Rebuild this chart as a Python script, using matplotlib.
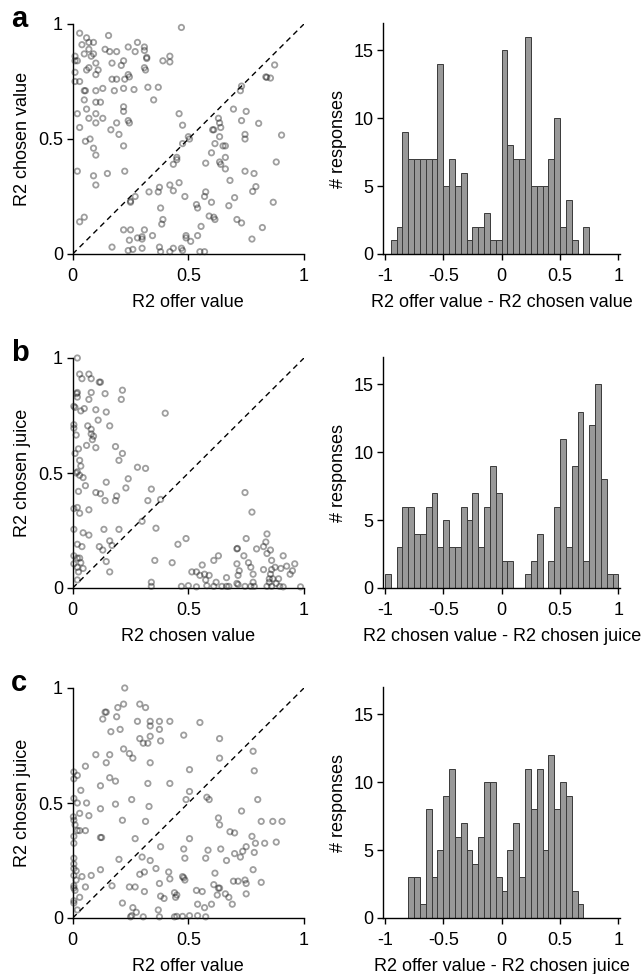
import numpy as np
import matplotlib
matplotlib.use("Agg")
import matplotlib.pyplot as plt

plt.rcParams['font.family'] = ['Liberation Sans', 'DejaVu Sans']
plt.rcParams['axes.unicode_minus'] = False

# ---- datos ----
# panel a: (R2 offer value, R2 chosen value)
pts_a = [
    (0.03, 0.96), (0.06, 0.94), (0.04, 0.91), (0.07, 0.92), (0.09, 0.92),
    (0.01, 0.86), (0.01, 0.84), (0.02, 0.84), (0.05, 0.87), (0.07, 0.89), (0.09, 0.87), (0.08, 0.86), (0.10, 0.83),
    (0.01, 0.79), (0.01, 0.75), (0.03, 0.75), (0.06, 0.80), (0.07, 0.81), (0.11, 0.80), (0.10, 0.78),
    (0.055, 0.71), (0.05, 0.71), (0.05, 0.67), (0.10, 0.71), (0.13, 0.72), (0.10, 0.66), (0.12, 0.66),
    (0.02, 0.61), (0.06, 0.63), (0.10, 0.61), (0.13, 0.59), (0.07, 0.59), (0.10, 0.57),
    (0.03, 0.55), (0.075, 0.50), (0.055, 0.49), (0.09, 0.46), (0.10, 0.43),
    (0.02, 0.36), (0.09, 0.34), (0.10, 0.30), (0.15, 0.35), (0.03, 0.14), (0.05, 0.16),
    (0.155, 0.95), (0.14, 0.89), (0.16, 0.88), (0.19, 0.88), (0.24, 0.90), (0.27, 0.88), (0.28, 0.92), (0.31, 0.90), (0.31, 0.885),
    (0.17, 0.83), (0.22, 0.84), (0.21, 0.82), (0.24, 0.78), (0.245, 0.77), (0.17, 0.76), (0.19, 0.76), (0.225, 0.76),
    (0.32, 0.855), (0.32, 0.85), (0.31, 0.81), (0.315, 0.80), (0.39, 0.84), (0.42, 0.86), (0.42, 0.835), (0.47, 0.985),
    (0.18, 0.71), (0.22, 0.72), (0.265, 0.715), (0.325, 0.725), (0.37, 0.725), (0.35, 0.67),
    (0.22, 0.64), (0.22, 0.62), (0.24, 0.58), (0.245, 0.57), (0.19, 0.57), (0.165, 0.54), (0.20, 0.52), (0.22, 0.47), (0.225, 0.36),
    (0.46, 0.61), (0.475, 0.56), (0.475, 0.48), (0.50, 0.51), (0.505, 0.50), (0.45, 0.42), (0.45, 0.41), (0.435, 0.39),
    (0.375, 0.29), (0.42, 0.30), (0.435, 0.275), (0.46, 0.31), (0.485, 0.25), (0.33, 0.27), (0.37, 0.27), (0.38, 0.20),
    (0.27, 0.25), (0.25, 0.23), (0.25, 0.225), (0.39, 0.15), (0.385, 0.13),
    (0.22, 0.105), (0.25, 0.105), (0.245, 0.06), (0.31, 0.105), (0.30, 0.075), (0.28, 0.07), (0.345, 0.08), (0.30, 0.065),
    (0.17, 0.03), (0.24, 0.015), (0.26, 0.02), (0.30, 0.025), (0.375, 0.03), (0.38, 0.01), (0.42, 0.01), (0.435, 0.025),
    (0.47, 0.025), (0.475, 0.015), (0.49, 0.08), (0.49, 0.07), (0.51, 0.055), (0.54, 0.08),
    (0.55, 0.01), (0.57, 0.01), (0.555, 0.12), (0.59, 0.165), (0.61, 0.16), (0.615, 0.15),
    (0.535, 0.215), (0.54, 0.20), (0.57, 0.25), (0.575, 0.27), (0.60, 0.225),
    (0.575, 0.395), (0.60, 0.44), (0.615, 0.48), (0.635, 0.40), (0.64, 0.39),
    (0.63, 0.59), (0.635, 0.57), (0.605, 0.54), (0.61, 0.54), (0.64, 0.55), (0.635, 0.51),
    (0.66, 0.37), (0.66, 0.42), (0.68, 0.32), (0.675, 0.21), (0.70, 0.245), (0.65, 0.47), (0.66, 0.47),
    (0.695, 0.63), (0.725, 0.71), (0.73, 0.73), (0.75, 0.62), (0.73, 0.58), (0.745, 0.52), (0.745, 0.50),
    (0.71, 0.15), (0.73, 0.135), (0.745, 0.36), (0.784, 0.35), (0.792, 0.293), (0.778, 0.272), (0.775, 0.065), (0.82, 0.115),
    (0.804, 0.568), (0.839, 0.768), (0.855, 0.765), (0.873, 0.822), (0.835, 0.77), (0.903, 0.517), (0.88, 0.40), (0.867, 0.225),
]

# panel b: (R2 chosen value, R2 chosen juice)
pts_b = [
    (0.02, 1.0), (0.03, 0.93), (0.04, 0.91), (0.07, 0.93), (0.08, 0.91), (0.115, 0.895), (0.12, 0.895),
    (0.02, 0.85), (0.017, 0.845), (0.02, 0.83), (0.08, 0.85), (0.07, 0.82), (0.14, 0.845), (0.215, 0.86), (0.21, 0.82),
    (0.005, 0.79), (0.01, 0.785), (0.05, 0.78), (0.035, 0.77), (0.10, 0.775), (0.11, 0.73), (0.145, 0.765),
    (0.40, 0.76),
    (0.005, 0.71), (0.005, 0.695), (0.015, 0.665), (0.065, 0.705), (0.08, 0.69), (0.08, 0.67), (0.09, 0.66),
    (0.085, 0.645), (0.06, 0.62), (0.10, 0.61), (0.16, 0.705),
    (0.025, 0.605), (0.01, 0.585), (0.03, 0.555), (0.035, 0.53),
    (0.02, 0.505), (0.015, 0.50), (0.03, 0.49), (0.045, 0.48), (0.055, 0.445), (0.025, 0.42),
    (0.185, 0.615), (0.215, 0.585), (0.20, 0.555), (0.28, 0.525), (0.315, 0.52), (0.24, 0.475), (0.23, 0.435),
    (0.145, 0.46), (0.10, 0.415), (0.12, 0.41), (0.14, 0.38), (0.185, 0.38), (0.19, 0.40),
    (0.325, 0.38), (0.34, 0.43), (0.38, 0.385),
    (0.02, 0.35), (0.005, 0.345), (0.07, 0.34), (0.03, 0.325),
    (0.005, 0.255), (0.045, 0.24), (0.07, 0.23), (0.135, 0.255), (0.20, 0.255), (0.30, 0.29), (0.36, 0.26),
    (0.16, 0.205), (0.17, 0.185), (0.115, 0.18), (0.13, 0.165), (0.145, 0.115), (0.16, 0.07),
    (0.02, 0.19), (0.04, 0.18), (0.005, 0.14), (0.02, 0.13), (0.03, 0.13), (0.035, 0.11), (0.005, 0.105),
    (0.02, 0.09), (0.045, 0.085), (0.025, 0.07), (0.02, 0.035),
    (0.355, 0.12), (0.43, 0.11), (0.455, 0.19), (0.49, 0.215),
    (0.34, 0.025), (0.34, 0.007),
    (0.47, 0.007), (0.50, 0.01), (0.515, 0.07), (0.535, 0.07), (0.56, 0.10), (0.55, 0.055), (0.57, 0.06),
    (0.59, 0.055), (0.575, 0.035), (0.58, 0.01), (0.535, 0.005),
    (0.61, 0.12), (0.63, 0.14), (0.62, 0.025), (0.61, 0.007), (0.645, 0.007), (0.665, 0.007), (0.665, 0.045), (0.675, 0.007),
    (0.71, 0.17), (0.712, 0.172), (0.71, 0.105), (0.715, 0.055), (0.72, 0.075), (0.71, 0.02), (0.715, 0.015),
    (0.745, 0.007), (0.75, 0.215), (0.745, 0.415), (0.775, 0.33),
    (0.74, 0.14), (0.76, 0.11), (0.77, 0.09), (0.78, 0.06), (0.78, 0.025), (0.77, 0.007), (0.785, 0.007),
    (0.84, 0.235), (0.835, 0.20), (0.825, 0.18), (0.795, 0.17), (0.855, 0.165), (0.84, 0.15), (0.86, 0.12),
    (0.875, 0.09), (0.86, 0.08), (0.825, 0.08),
    (0.855, 0.06), (0.865, 0.04), (0.85, 0.025), (0.84, 0.007), (0.86, 0.007), (0.91, 0.005), (0.895, 0.007), (0.88, 0.02),
    (0.91, 0.14), (0.90, 0.085), (0.925, 0.095), (0.96, 0.105), (0.94, 0.06), (0.95, 0.075), (0.985, 0.005),
    (0.89, 0.04), (0.85, 0.04),
]

# panel c: (R2 offer value, R2 chosen juice)
pts_c = [
    (0.225, 1.0), (0.22, 0.93), (0.195, 0.915), (0.29, 0.93), (0.315, 0.915),
    (0.14, 0.895), (0.145, 0.895), (0.13, 0.865), (0.19, 0.875), (0.205, 0.82), (0.165, 0.81),
    (0.28, 0.855), (0.335, 0.855), (0.375, 0.855), (0.42, 0.855), (0.335, 0.835), (0.375, 0.82), (0.38, 0.77),
    (0.29, 0.78), (0.305, 0.76), (0.325, 0.76), (0.335, 0.79),
    (0.48, 0.795), (0.55, 0.85), (0.635, 0.78), (0.635, 0.695),
    (0.22, 0.735), (0.245, 0.715), (0.26, 0.695), (0.16, 0.71), (0.145, 0.675), (0.10, 0.71), (0.055, 0.66),
    (0.335, 0.675), (0.505, 0.645), (0.78, 0.725), (0.785, 0.64),
    (0.005, 0.635), (0.02, 0.62), (0.005, 0.605), (0.035, 0.555), (0.005, 0.52), (0.02, 0.50), (0.06, 0.50),
    (0.03, 0.455), (0.07, 0.445),
    (0.16, 0.61), (0.185, 0.595), (0.12, 0.575), (0.12, 0.475), (0.185, 0.495), (0.255, 0.515), (0.33, 0.485),
    (0.325, 0.585), (0.42, 0.585),
    (0.49, 0.515), (0.505, 0.55), (0.58, 0.525), (0.59, 0.515), (0.80, 0.515),
    (0.003, 0.44), (0.005, 0.425), (0.01, 0.405), (0.02, 0.38), (0.03, 0.38), (0.055, 0.38), (0.005, 0.355), (0.005, 0.325),
    (0.215, 0.425), (0.315, 0.42), (0.12, 0.35), (0.125, 0.35), (0.27, 0.345), (0.38, 0.31),
    (0.63, 0.435), (0.635, 0.405), (0.68, 0.375), (0.70, 0.37), (0.73, 0.465), (0.815, 0.42), (0.865, 0.42), (0.905, 0.42),
    (0.505, 0.345), (0.48, 0.30), (0.485, 0.26), (0.585, 0.295), (0.64, 0.30), (0.575, 0.26), (0.665, 0.25),
    (0.775, 0.355), (0.79, 0.325), (0.83, 0.325), (0.88, 0.33), (0.75, 0.31), (0.735, 0.29), (0.70, 0.28), (0.725, 0.265), (0.785, 0.285),
    (0.005, 0.26), (0.005, 0.235), (0.005, 0.215), (0.015, 0.205), (0.005, 0.185), (0.04, 0.18), (0.08, 0.185), (0.12, 0.21),
    (0.015, 0.165), (0.005, 0.14), (0.005, 0.13), (0.055, 0.135), (0.01, 0.12), (0.03, 0.09), (0.005, 0.075), (0.02, 0.035), (0.005, 0.065),
    (0.20, 0.255), (0.30, 0.265), (0.335, 0.25), (0.36, 0.215), (0.31, 0.20), (0.29, 0.19), (0.17, 0.14), (0.245, 0.135),
    (0.27, 0.135), (0.31, 0.115),
    (0.375, 0.15), (0.415, 0.20), (0.42, 0.17), (0.38, 0.095), (0.395, 0.085), (0.44, 0.11), (0.445, 0.09), (0.45, 0.10),
    (0.48, 0.175), (0.485, 0.165), (0.475, 0.18),
    (0.535, 0.12), (0.56, 0.115), (0.615, 0.195), (0.61, 0.145), (0.63, 0.13), (0.635, 0.13), (0.625, 0.10), (0.66, 0.105),
    (0.675, 0.09), (0.69, 0.06), (0.695, 0.16), (0.715, 0.16), (0.745, 0.165), (0.75, 0.15), (0.75, 0.105), (0.78, 0.21), (0.815, 0.155),
    (0.215, 0.065), (0.255, 0.01), (0.25, 0.005), (0.26, 0.045), (0.275, 0.025), (0.305, 0.005), (0.37, 0.035), (0.375, 0.005),
    (0.44, 0.005), (0.45, 0.007), (0.475, 0.007), (0.505, 0.01), (0.54, 0.06), (0.54, 0.01), (0.57, 0.045), (0.575, 0.005), (0.60, 0.06),
]

# histogramas: 40 bins de 0.05 entre -1 y 1
bin_left = np.round(np.arange(-1.0, 1.0, 0.05), 2)
counts_a = [0, 1, 2, 9, 7, 7, 7, 7, 7, 14, 5, 7, 5, 6, 1, 2, 2, 3, 1, 1,
            15, 8, 7, 7, 16, 5, 5, 5, 7, 10, 2, 4, 1, 0, 2, 0, 0, 0, 0, 0]
counts_b = [1, 0, 3, 6, 6, 4, 4, 6, 7, 3, 5, 3, 3, 6, 5, 7, 3, 6, 9, 7,
            2, 2, 0, 0, 1, 2, 4, 0, 2, 6, 11, 3, 9, 13, 2, 12, 15, 8, 1, 1]
counts_c = [0, 0, 0, 0, 3, 3, 1, 8, 3, 5, 9, 11, 6, 7, 5, 4, 6, 10, 10, 3,
            2, 5, 7, 3, 11, 8, 11, 5, 12, 8, 10, 9, 2, 1, 0, 0, 0, 0, 0, 0]

paneles = [
    ("a", pts_a, "R2 offer value", "R2 chosen value", counts_a, "R2 offer value - R2 chosen value"),
    ("b", pts_b, "R2 chosen value", "R2 chosen juice", counts_b, "R2 chosen value - R2 chosen juice"),
    ("c", pts_c, "R2 offer value", "R2 chosen juice", counts_c, "R2 offer value - R2 chosen juice"),
]

W, H = 643, 974
fig = plt.figure(figsize=(W / 100, H / 100), dpi=100)
FS = 13

# parte de abajo (eje y=0) de cada fila, en pixeles
filas_y0 = [254, 588, 918]


def estilo(ax):
    for s in ["top", "right"]:
        ax.spines[s].set_visible(False)
    ax.spines["left"].set_linewidth(1.0)
    ax.spines["bottom"].set_linewidth(1.0)
    ax.tick_params(direction="out", length=4, width=1, labelsize=FS)
    ax.tick_params(axis="x", pad=6)
    ax.tick_params(axis="y", pad=3)


for (letra, pts, xl, yl, counts, hxl), y0 in zip(paneles, filas_y0):
    pts = np.array(pts)

    # --- dispersion ---
    ax = fig.add_axes([72.7 / W, 1 - y0 / H, 231.3 / W, 230 / H])
    ax.plot([0, 1], [0, 1], color="k", lw=1.0, linestyle=(0, (4, 3)))
    ax.scatter(pts[:, 0], pts[:, 1], s=15, facecolors="none",
               edgecolors=(0.1, 0.1, 0.1, 0.42), linewidths=1.3, clip_on=False, zorder=3)
    ax.set_xlim(0, 1)
    ax.set_ylim(0, 1)
    ax.set_xticks([0, 0.5, 1])
    ax.set_xticklabels(["0", "0.5", "1"])
    ax.set_yticks([0, 0.5, 1])
    ax.set_yticklabels(["0", "0.5", "1"])
    estilo(ax)
    ax.set_xlabel(xl, fontsize=FS)
    ax.set_ylabel(yl, fontsize=FS)
    ax.xaxis.set_label_coords(0.5, -40 / 230)
    ax.yaxis.set_label_coords(-42 / 231.3, 0.5)

    # --- histograma ---
    hx = fig.add_axes([383.3 / W, 1 - y0 / H, 236.7 / W, 230.7 / H])
    hx.bar(bin_left, counts, width=0.05, align="edge", color="#999999",
           edgecolor="#3a3a3a", linewidth=0.7)
    hx.set_xlim(-1.014, 1.014)
    hx.set_ylim(0, 17)
    hx.set_xticks([-1, -0.5, 0, 0.5, 1])
    hx.set_xticklabels(["-1", "-0.5", "0", "0.5", "1"])
    hx.set_yticks([0, 5, 10, 15])
    estilo(hx)
    hx.set_xlabel(hxl, fontsize=FS)
    hx.set_ylabel("# responses", fontsize=FS)
    hx.xaxis.set_label_coords(0.5, -40 / 230.7)
    hx.yaxis.set_label_coords(-36 / 236.7, 0.5)

    # letra del panel
    fig.text(11 / W, 1 - (y0 - 227) / H, letra, fontsize=21, fontweight="bold",
             va="baseline", ha="left")

fig.savefig("out.png", dpi=100)
